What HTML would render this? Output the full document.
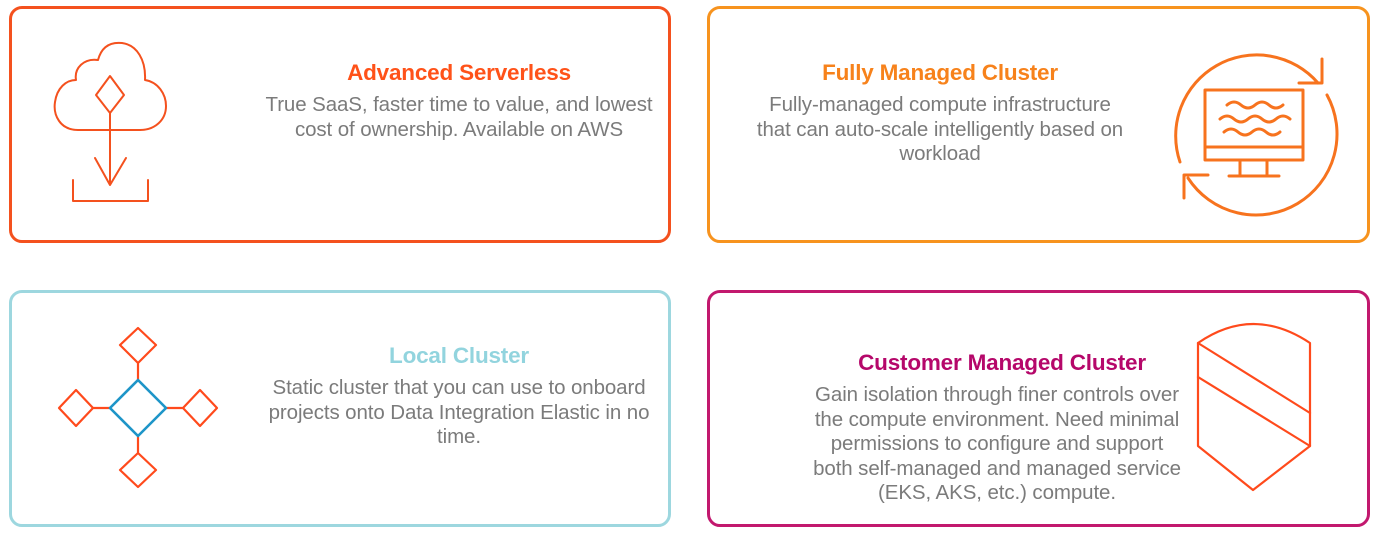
<!DOCTYPE html>
<html><head><meta charset="utf-8"><style>
body{margin:0;width:1379px;height:538px;background:#fff;position:relative;overflow:hidden;font-family:"Liberation Sans",Arial,sans-serif}
.box{position:absolute;border:3px solid;border-radius:13px;box-sizing:border-box}
.t{position:absolute;font-weight:bold;font-size:22.5px;text-align:center;white-space:nowrap;transform:translateX(-50%);letter-spacing:-0.2px}
.b{position:absolute;font-size:20.5px;color:#7b7b7b;text-align:center;line-height:24.6px;white-space:nowrap;transform:translateX(-50%);letter-spacing:-0.1px}
svg{position:absolute;left:0;top:0}
</style></head><body>
<div class="box" style="left:9px;top:6px;width:662px;height:237px;border-color:#f4511e"></div>
<div class="box" style="left:707px;top:6px;width:663px;height:237px;border-color:#f7931e"></div>
<div class="box" style="left:9px;top:290px;width:662px;height:237px;border-color:#9dd7df"></div>
<div class="box" style="left:707px;top:290px;width:663px;height:237px;border-color:#c2186e"></div>

<div class="t" style="left:459px;top:60px;color:#ff5219">Advanced Serverless</div>
<div class="b" style="left:459px;top:93px">True SaaS, faster time to value, and lowest<br>cost of ownership. Available on AWS</div>

<div class="t" style="left:940px;top:60px;color:#f7821b">Fully Managed Cluster</div>
<div class="b" style="left:940px;top:93px">Fully-managed compute infrastructure<br>that can auto-scale intelligently based on<br>workload</div>

<div class="t" style="left:459px;top:343px;color:#92d4de">Local Cluster</div>
<div class="b" style="left:459px;top:376px">Static cluster that you can use to onboard<br>projects onto Data Integration Elastic in no<br>time.</div>

<div class="t" style="left:1002px;top:350px;color:#b5076a">Customer Managed Cluster</div>
<div class="b" style="left:997px;top:383px">Gain isolation through finer controls over<br>the compute environment. Need minimal<br>permissions to configure and support<br>both self-managed and managed service<br>(EKS, AKS, etc.) compute.</div>

<svg width="1379" height="538" fill="none" stroke-linecap="round" stroke-linejoin="round">
<g stroke="#f4511e" stroke-width="2">
<path d="M140,130 L78,130 C60,130 53,115 55,102 C57,88 66,80 76,80 C74,68 84,58 98,60 C102,45 112,42 122,43 C137,45 146,60 145,80 C158,82 166,94 166,106 C166,120 155,130 140,130"/>
<path d="M110,76 L124,95 L110,113 L96,95 Z"/>
<path d="M110,113 L110,185 M95,158 L110,185 L126,158"/>
<path d="M73,180 L73,201 L148,201 L148,180"/>
</g>
<g stroke="#f7731e" stroke-width="3">
<path d="M1327,95 A81,81 0 0 1 1188,178"/>
<path d="M1180,162 A81,81 0 0 1 1318,83"/>
<path d="M1322,59 L1322,83 L1299,83"/>
<path d="M1208,175 L1184,175 L1184,198"/>
<rect x="1205" y="90" width="98" height="70"/>
<path d="M1205,147 L1303,147 M1240,160 L1240,176 M1267,160 L1267,176 M1229,176 L1279,176"/>
<path d="M1227,105 q7,-6 14,0 t14,0 t14,0 t14,0"/>
<path d="M1220,119 q7,-6 14,0 t14,0 t14,0 t14,0 t14,0"/>
<path d="M1224,132 q7,-6 14,0 t14,0 t14,0 t14,0"/>
</g>
<g stroke="#ff4a1c" stroke-width="2.2">
<path d="M1198,343 Q1253,305 1310,343 L1310,446 L1253,490 L1198,446 Z"/>
<path d="M1198,343 L1310,413 M1198,377 L1310,446"/>
</g>
<g stroke="#ff4a1c" stroke-width="2.2">
<path d="M138,328 L156,345 L138,363 L120,345 Z M138,363 L138,380"/>
<path d="M138,453 L156,470 L138,487 L120,470 Z M138,437 L138,453"/>
<path d="M76,390 L93,408 L76,426 L59,408 Z M93,408 L110,408"/>
<path d="M200,390 L217,408 L200,426 L183,408 Z M166,408 L183,408"/>
</g>
<path d="M138,380 L166,408 L138,436 L110,408 Z" stroke="#1e95c8" stroke-width="2.6"/>
</svg>
</body></html>
